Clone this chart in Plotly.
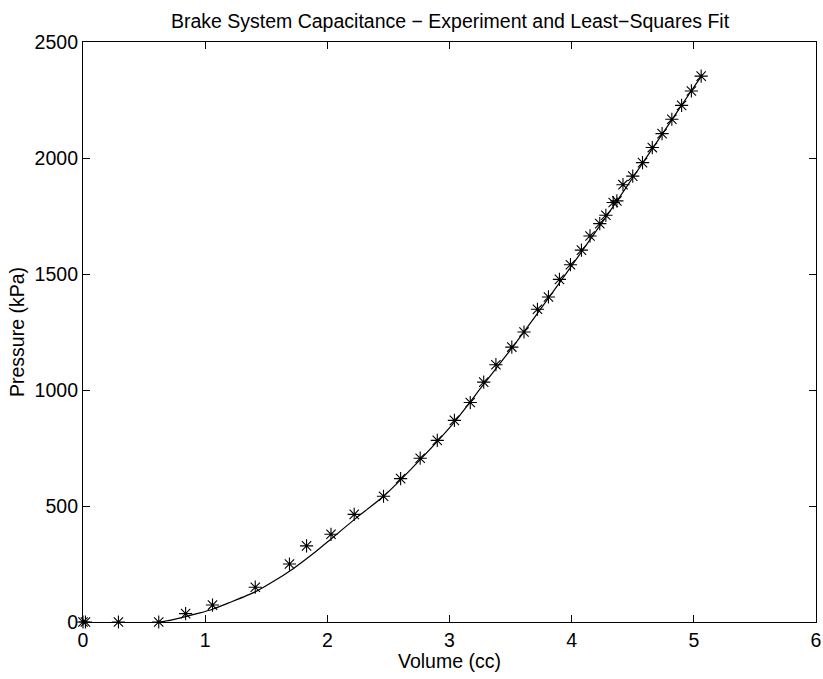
"""
Brake system capacitance: measured pressure vs. volume with least-squares fit.
"""

import plotly.graph_objects as go

volume_cc = [0.0, 0.02, 0.29, 0.62, 0.84, 1.06, 1.41, 1.69, 1.83, 2.03,
             2.22, 2.46, 2.60, 2.76, 2.90, 3.04, 3.17, 3.28, 3.38, 3.51,
             3.61, 3.72, 3.81, 3.90, 3.99, 4.08, 4.15, 4.23, 4.28, 4.34,
             4.37, 4.42, 4.50, 4.58, 4.66, 4.74, 4.82, 4.90, 4.98, 5.06]
pressure_kpa = [0, 0, 0, 0, 36, 73, 150, 250, 328, 378,
                464, 542, 618, 706, 783, 869, 946, 1034, 1109, 1185,
                1250, 1348, 1401, 1477, 1540, 1603, 1664, 1717, 1753, 1808,
                1815, 1885, 1922, 1980, 2045, 2105, 2167, 2227, 2289, 2353]

# Least-squares fit curve
fit_volume = [0.63, 0.72, 0.84, 0.95, 1.06, 1.20, 1.41, 1.55, 1.72, 1.88,
              2.03, 2.24, 2.46, 2.76, 3.04, 3.28, 3.51, 3.72, 3.90, 4.08,
              4.28, 4.50, 4.74, 4.98, 5.07]
fit_pressure = [0, 8, 23, 38, 55, 84, 130, 172, 230, 293,
                358, 450, 542, 700, 862, 1025, 1180, 1330, 1462, 1595,
                1745, 1915, 2102, 2290, 2358]

FONT = dict(family='Liberation Sans, Arial, sans-serif', size=19.5, color='black')

FIG_W, FIG_H = 823, 679

fig = go.Figure()

fig.add_trace(go.Scatter(
    x=fit_volume,
    y=fit_pressure,
    mode='lines',
    line=dict(color='black', width=1.2, shape='spline', smoothing=0.6),
    showlegend=False
))

fig.add_trace(go.Scatter(
    x=volume_cc,
    y=pressure_kpa,
    mode='markers',
    marker=dict(symbol='asterisk-open', size=11, color='black',
                line=dict(color='black', width=1.1)),
    cliponaxis=False,
    showlegend=False
))

axis_style = dict(
    showline=True,
    linecolor='black',
    linewidth=1.2,
    mirror='allticks',
    ticks='inside',
    ticklen=7,
    tickwidth=1,
    tickcolor='black',
    showgrid=False,
    zeroline=False,
    automargin=False,
    tickfont=FONT,
)

fig.update_layout(
    width=FIG_W,
    height=FIG_H,
    margin=dict(l=83, r=7, t=42, b=57),
    paper_bgcolor='white',
    plot_bgcolor='white',
    title=dict(
        text='Brake System Capacitance \u2212 Experiment and Least\u2212Squares Fit',
        font=FONT,
        x=450 / FIG_W,
        xanchor='center',
        y=1 - 21 / FIG_H,
        yanchor='middle'
    ),
    xaxis=dict(
        range=[0, 6],
        tickvals=[0, 1, 2, 3, 4, 5, 6],
        title=dict(text='Volume (cc)', font=FONT, standoff=0),
        **axis_style
    ),
    yaxis=dict(
        range=[0, 2500],
        tickvals=[0, 500, 1000, 1500, 2000, 2500],
        title=dict(text='Pressure (kPa)', font=FONT, standoff=4),
        **axis_style
    ),
)

# drop the default page margin so the figure fills the window exactly
fig.write_html(
    "out.html",
    config={'displayModeBar': False},
    post_script="document.body.style.margin='0';document.body.style.overflow='hidden';"
)
